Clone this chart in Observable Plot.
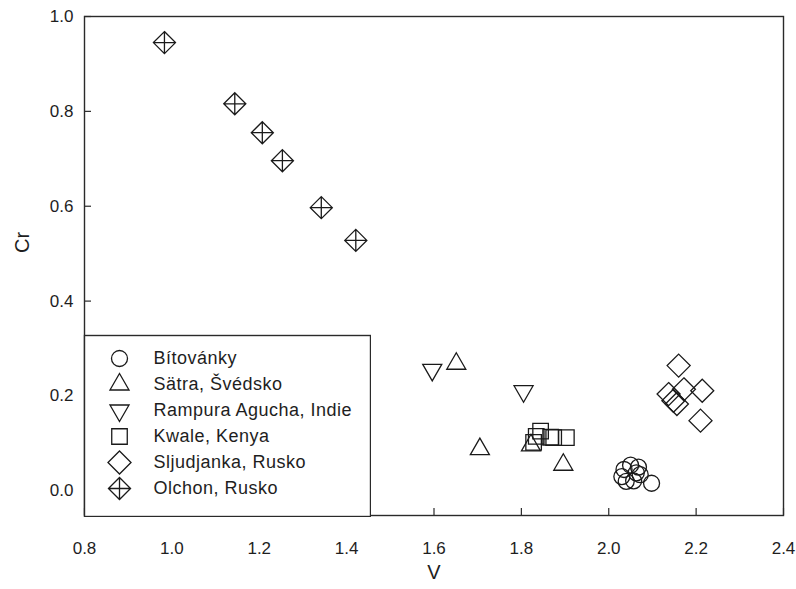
<!DOCTYPE html>
<html>
<head>
<meta charset="utf-8">
<script src="https://cdn.jsdelivr.net/npm/d3@7"></script>
<script src="https://cdn.jsdelivr.net/npm/@observablehq/plot@0.6"></script>
<style>
  body { margin: 0; background: #fff; }
  #chart { position: relative; width: 796px; height: 589px; }
  #chart svg { position: absolute; }
  .lg text { letter-spacing: 0.5px; }
</style>
</head>
<body>
<div id="chart"></div>
<script>
// ---- data ----
const seriesNames = ["Bítovánky", "Sätra, Švédsko", "Rampura Agucha, Indie", "Kwale, Kenya", "Sljudjanka, Rusko", "Olchon, Rusko"];

const bitovankyV  = [2.035, 2.050, 2.068, 2.030, 2.040, 2.057, 2.063, 2.072, 2.098];
const bitovankyCr = [0.045, 0.054, 0.050, 0.030, 0.020, 0.021, 0.038, 0.034, 0.016];

const satraV  = [1.651, 1.705, 1.822, 1.896];
const satraCr = [0.268, 0.088, 0.096, 0.055];

const rampuraV  = [1.596, 1.805];
const rampuraCr = [0.255, 0.210];

const kwaleV  = [1.844, 1.834, 1.867, 1.874, 1.903, 1.828];
const kwaleCr = [0.126, 0.115, 0.113, 0.112, 0.112, 0.102];

const sljudjankaV  = [2.160, 2.172, 2.214, 2.137, 2.148, 2.156, 2.210];
const sljudjankaCr = [0.264, 0.214, 0.211, 0.204, 0.190, 0.183, 0.148];

const olchonV  = [0.983, 1.144, 1.207, 1.253, 1.342, 1.421];
const olchonCr = [0.945, 0.816, 0.755, 0.696, 0.597, 0.528];

const xTicks = [0.8, 1.0, 1.2, 1.4, 1.6, 1.8, 2.0, 2.2, 2.4];
const yTicks = [0.0, 0.2, 0.4, 0.6, 0.8, 1.0];

// ---- symbols ----
const rad = s => Math.sqrt(s / Math.PI);
const symCircle = {draw(c, s) { const r = rad(s); c.moveTo(r, 0); c.arc(0, 0, r, 0, 2 * Math.PI); }};
const symUp = {draw(c, s) { const r = rad(s); c.moveTo(0, -r * 1.375); c.lineTo(r * 1.19, r * 0.69); c.lineTo(-r * 1.19, r * 0.69); c.closePath(); }};
const symDown = {draw(c, s) { const r = rad(s); c.moveTo(0, r * 1.375); c.lineTo(r * 1.19, -r * 0.69); c.lineTo(-r * 1.19, -r * 0.69); c.closePath(); }};
const symSquare = {draw(c, s) { const h = rad(s) * 0.97; c.rect(-h, -h, 2 * h, 2 * h); }};
const symDiamond = {draw(c, s) { const R = rad(s) * 1.44; c.moveTo(0, -R); c.lineTo(R, 0); c.lineTo(0, R); c.lineTo(-R, 0); c.closePath(); }};
const symCrossDiamond = {draw(c, s) { const R = rad(s) * 1.38; c.moveTo(0, -R); c.lineTo(R, 0); c.lineTo(0, R); c.lineTo(-R, 0); c.closePath(); c.moveTo(-R, 0); c.lineTo(R, 0); c.moveTo(0, -R); c.lineTo(0, R); }};

const series = [
  {name: seriesNames[0], V: bitovankyV, Cr: bitovankyCr, sym: symCircle},
  {name: seriesNames[1], V: satraV, Cr: satraCr, sym: symUp},
  {name: seriesNames[2], V: rampuraV, Cr: rampuraCr, sym: symDown},
  {name: seriesNames[3], V: kwaleV, Cr: kwaleCr, sym: symSquare},
  {name: seriesNames[4], V: sljudjankaV, Cr: sljudjankaCr, sym: symDiamond},
  {name: seriesNames[5], V: olchonV, Cr: olchonCr, sym: symCrossDiamond}
];

const W = 796, H = 589, ml = 84, mr = 13, mt = 16, mb = 74;
const plotW = W - ml - mr, plotH = H - mt - mb;
const ink = "#1a1a1a", frameInk = "#2a2a2a";
const font = "'Liberation Sans', Arial, Helvetica, sans-serif";
const fmt = d3.format(".1f");

const dotMarks = series.map(s => Plot.dot(s.V.map((v, i) => ({V: v, Cr: s.Cr[i]})), {
  x: "V", y: "Cr", symbol: s.sym, r: 8, stroke: ink, strokeWidth: 1.3, fill: "none"
}));

const main = Plot.plot({
  width: W, height: H,
  marginLeft: ml, marginRight: mr, marginTop: mt, marginBottom: mb,
  style: {fontFamily: font, background: "white", color: "#1e1e1e", overflow: "visible"},
  x: {domain: [0.8, 2.4]},
  y: {domain: [-0.052, 1.0]},
  marks: [
    Plot.tickX(xTicks, {x: d => d, insetTop: plotH - 7, stroke: frameInk, strokeWidth: 1.2}),
    Plot.tickY(yTicks, {y: d => d, insetRight: plotW - 7, stroke: frameInk, strokeWidth: 1.2}),
    Plot.axisX(xTicks, {tickSize: 0, tickPadding: 26, fontSize: 17, tickFormat: fmt, label: null}),
    Plot.axisY(yTicks, {tickSize: 0, tickPadding: 11, fontSize: 17, tickFormat: fmt, label: null}),
    ...dotMarks,
    Plot.frame({stroke: frameInk, strokeWidth: 1.4}),
    Plot.text(["V"], {frameAnchor: "bottom", dy: 63, fontSize: 20, fill: "#1e1e1e"}),
    Plot.text(["Cr"], {frameAnchor: "left", dx: -62, dy: -13, rotate: -90, fontSize: 20, fill: "#1e1e1e"})
  ]
});
main.style.left = "0px"; main.style.top = "0px";
document.getElementById("chart").appendChild(main);

// ---- legend (boxed, lower-left inside the frame) ----
const LW = 288, LH = 183;
const legend = Plot.plot({
  width: LW, height: LH, margin: 1,
  className: "lg",
  style: {fontFamily: font, background: "transparent", color: "#1e1e1e"},
  y: {type: "point", domain: seriesNames, range: [23, 154], padding: 0, axis: null},
  marks: [
    Plot.frame({stroke: frameInk, strokeWidth: 1.4, fill: "white"}),
    ...series.map(s => Plot.dot([s.name], {y: d => d, frameAnchor: "left", dx: 35, symbol: s.sym, r: 8, stroke: ink, strokeWidth: 1.3, fill: "none"})),
    Plot.text(seriesNames, {y: d => d, text: d => d, frameAnchor: "left", dx: 69, textAnchor: "start", fontSize: 18, fill: "#1e1e1e"})
  ]
});
legend.style.left = "83px"; legend.style.top = "334px";
document.getElementById("chart").appendChild(legend);
</script>
</body>
</html>
